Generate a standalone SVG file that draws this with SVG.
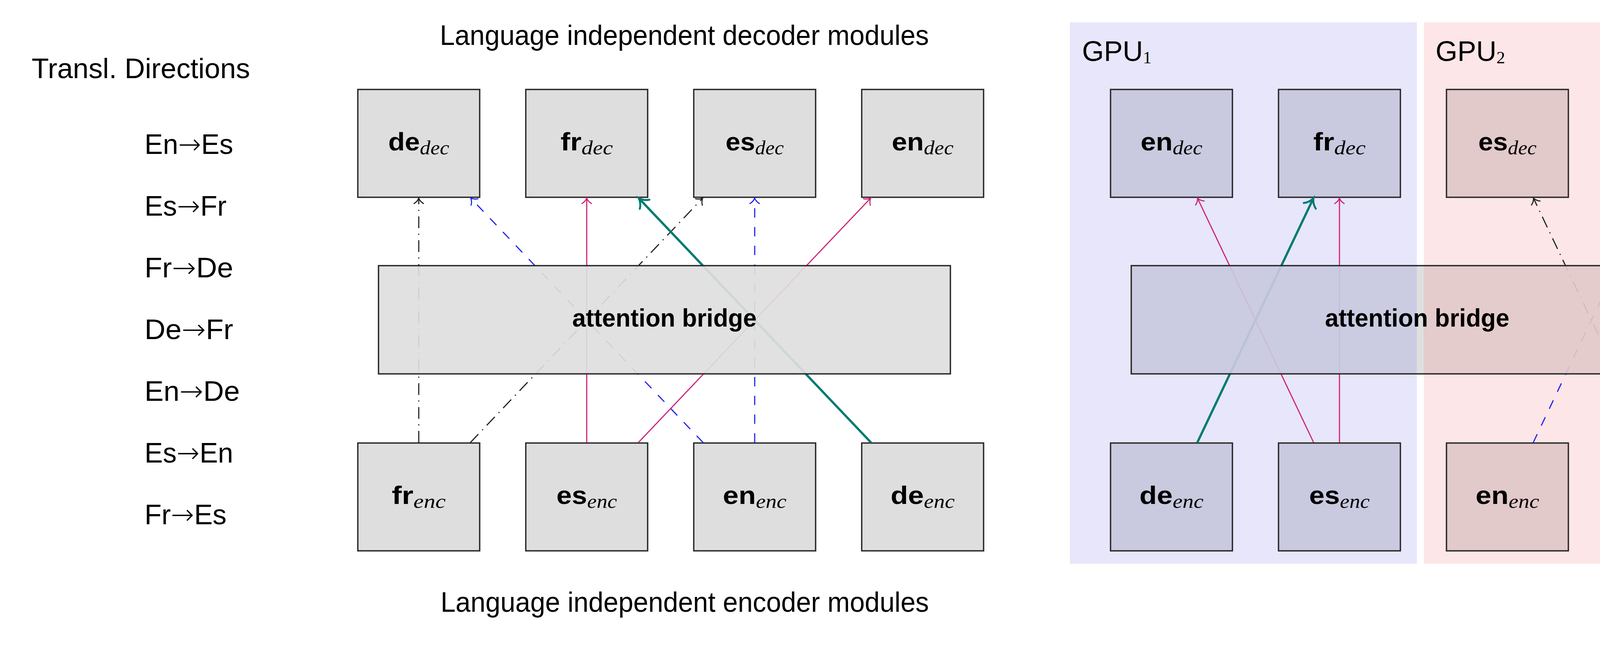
<svg xmlns="http://www.w3.org/2000/svg" width="4602" height="1692" viewBox="0 0 4602 1692">
<style>
.box{stroke:#262626;stroke-width:3.4}
.gray{fill:#dedede}
.g1{fill:#c9c9df}
.g2{fill:#e2c9ca}
.lbl{font-family:"Liberation Sans","DejaVu Sans",sans-serif;font-weight:bold;font-size:64px;fill:#000;text-anchor:middle}
.sub{font-family:"Liberation Serif","DejaVu Serif",serif;font-style:italic;font-weight:normal;font-size:50px}
.txt{font-family:"Liberation Sans","DejaVu Sans",sans-serif;font-size:72px;fill:#000}
.arr{font-family:"DejaVu Sans",sans-serif;font-weight:200}
.num{font-family:"Liberation Serif","DejaVu Serif",serif;font-size:44px}
.c{fill:none;stroke-width:2.9}
.mag{stroke:#cc2277}
.teal{stroke:#007a70;stroke-width:5.8}
.blue{stroke:#2020f0;stroke-dasharray:24 24}
.blk{stroke:#222;stroke-dasharray:30 14 3 14}
.br{fill-opacity:0.92}
</style>
<defs>
<marker id="a-mag" markerUnits="userSpaceOnUse" orient="auto" overflow="visible" markerWidth="1" markerHeight="1"><path d="M-14,-12 C-9,-4 -3,-1 0,0 C-3,1 -9,4 -14,12" fill="none" stroke="#cc2277" stroke-width="2.8" stroke-linecap="round"/></marker>
<marker id="a-blue" markerUnits="userSpaceOnUse" orient="auto" overflow="visible" markerWidth="1" markerHeight="1"><path d="M-14,-12 C-9,-4 -3,-1 0,0 C-3,1 -9,4 -14,12" fill="none" stroke="#2020f0" stroke-width="2.8" stroke-linecap="round"/></marker>
<marker id="a-blk" markerUnits="userSpaceOnUse" orient="auto" overflow="visible" markerWidth="1" markerHeight="1"><path d="M-14,-12 C-9,-4 -3,-1 0,0 C-3,1 -9,4 -14,12" fill="none" stroke="#222" stroke-width="2.8" stroke-linecap="round"/></marker>
<marker id="a-teal" markerUnits="userSpaceOnUse" orient="auto" overflow="visible" markerWidth="1" markerHeight="1"><path d="M-22,-17 C-15,-6 -5,-1.5 0,0 C-5,1.5 -15,6 -22,17" fill="none" stroke="#007a70" stroke-width="5" stroke-linecap="round"/></marker>
</defs>

<g id="gpu-backgrounds">
<rect id="gpu1-bg" x="2739" y="57" width="888" height="1386" fill="#e7e6fb"/>
<rect id="gpu2-bg" x="3645" y="57" width="887" height="1386" fill="#fde6e7"/>
<text class="txt" x="2770" y="156" font-size="68">GPU<tspan class="num" dy="6">1</tspan></text>
<text class="txt" x="3675" y="156" font-size="68">GPU<tspan class="num" dy="6">2</tspan></text>
</g>

<g id="labels">
<text class="txt" x="81" y="200" textLength="559" lengthAdjust="spacingAndGlyphs">Transl. Directions</text>
<text class="txt" x="370" y="394" textLength="227" lengthAdjust="spacingAndGlyphs">En<tspan class="arr">→</tspan>Es</text>
<text class="txt" x="370" y="552" textLength="210" lengthAdjust="spacingAndGlyphs">Es<tspan class="arr">→</tspan>Fr</text>
<text class="txt" x="370" y="710" textLength="227" lengthAdjust="spacingAndGlyphs">Fr<tspan class="arr">→</tspan>De</text>
<text class="txt" x="370" y="868" textLength="227" lengthAdjust="spacingAndGlyphs">De<tspan class="arr">→</tspan>Fr</text>
<text class="txt" x="370" y="1026" textLength="244" lengthAdjust="spacingAndGlyphs">En<tspan class="arr">→</tspan>De</text>
<text class="txt" x="370" y="1184" textLength="227" lengthAdjust="spacingAndGlyphs">Es<tspan class="arr">→</tspan>En</text>
<text class="txt" x="370" y="1342" textLength="210" lengthAdjust="spacingAndGlyphs">Fr<tspan class="arr">→</tspan>Es</text>
<text class="txt" x="1126" y="115" textLength="1252" lengthAdjust="spacingAndGlyphs">Language independent decoder modules</text>
<text class="txt" x="1128" y="1566" textLength="1250" lengthAdjust="spacingAndGlyphs">Language independent encoder modules</text>
</g>

<g id="left-decoders">
<g id="L-de-dec"><rect class="box gray" x="916" y="229" width="312" height="276"/><text class="lbl" x="1072" y="385" textLength="156" lengthAdjust="spacingAndGlyphs">de<tspan class="sub" dy="10">dec</tspan></text></g>
<g id="L-fr-dec"><rect class="box gray" x="1346" y="229" width="312" height="276"/><text class="lbl" x="1502" y="385" textLength="134" lengthAdjust="spacingAndGlyphs">fr<tspan class="sub" dy="10">dec</tspan></text></g>
<g id="L-es-dec"><rect class="box gray" x="1776" y="229" width="312" height="276"/><text class="lbl" x="1932" y="385" textLength="149" lengthAdjust="spacingAndGlyphs">es<tspan class="sub" dy="10">dec</tspan></text></g>
<g id="L-en-dec"><rect class="box gray" x="2206" y="229" width="312" height="276"/><text class="lbl" x="2362" y="385" textLength="158" lengthAdjust="spacingAndGlyphs">en<tspan class="sub" dy="10">dec</tspan></text></g>
</g>
<g id="left-encoders">
<g id="L-fr-enc"><rect class="box gray" x="916" y="1134" width="312" height="276"/><text class="lbl" x="1072" y="1290" textLength="138" lengthAdjust="spacingAndGlyphs">fr<tspan class="sub" dy="10">enc</tspan></text></g>
<g id="L-es-enc"><rect class="box gray" x="1346" y="1134" width="312" height="276"/><text class="lbl" x="1502" y="1290" textLength="155" lengthAdjust="spacingAndGlyphs">es<tspan class="sub" dy="10">enc</tspan></text></g>
<g id="L-en-enc"><rect class="box gray" x="1776" y="1134" width="312" height="276"/><text class="lbl" x="1932" y="1290" textLength="163" lengthAdjust="spacingAndGlyphs">en<tspan class="sub" dy="10">enc</tspan></text></g>
<g id="L-de-enc"><rect class="box gray" x="2206" y="1134" width="312" height="276"/><text class="lbl" x="2362" y="1290" textLength="164" lengthAdjust="spacingAndGlyphs">de<tspan class="sub" dy="10">enc</tspan></text></g>
</g>

<g id="right-decoders">
<g id="R-en-dec"><rect class="box g1" x="2843" y="229" width="312" height="276"/><text class="lbl" x="2999" y="385" textLength="158" lengthAdjust="spacingAndGlyphs">en<tspan class="sub" dy="10">dec</tspan></text></g>
<g id="R-fr-dec"><rect class="box g1" x="3273" y="229" width="312" height="276"/><text class="lbl" x="3429" y="385" textLength="134" lengthAdjust="spacingAndGlyphs">fr<tspan class="sub" dy="10">dec</tspan></text></g>
<g id="R-es-dec"><rect class="box g2" x="3703" y="229" width="312" height="276"/><text class="lbl" x="3859" y="385" textLength="149" lengthAdjust="spacingAndGlyphs">es<tspan class="sub" dy="10">dec</tspan></text></g>
<g id="R-de-dec"><rect class="box g2" x="4133" y="229" width="312" height="276"/><text class="lbl" x="4289" y="385" textLength="156" lengthAdjust="spacingAndGlyphs">de<tspan class="sub" dy="10">dec</tspan></text></g>
</g>
<g id="right-encoders">
<g id="R-de-enc"><rect class="box g1" x="2843" y="1134" width="312" height="276"/><text class="lbl" x="2999" y="1290" textLength="164" lengthAdjust="spacingAndGlyphs">de<tspan class="sub" dy="10">enc</tspan></text></g>
<g id="R-es-enc"><rect class="box g1" x="3273" y="1134" width="312" height="276"/><text class="lbl" x="3429" y="1290" textLength="155" lengthAdjust="spacingAndGlyphs">es<tspan class="sub" dy="10">enc</tspan></text></g>
<g id="R-en-enc"><rect class="box g2" x="3703" y="1134" width="312" height="276"/><text class="lbl" x="3859" y="1290" textLength="163" lengthAdjust="spacingAndGlyphs">en<tspan class="sub" dy="10">enc</tspan></text></g>
<g id="R-fr-enc"><rect class="box g2" x="4133" y="1134" width="312" height="276"/><text class="lbl" x="4289" y="1290" textLength="138" lengthAdjust="spacingAndGlyphs">fr<tspan class="sub" dy="10">enc</tspan></text></g>
</g>

<g id="connectors">
<path class="c blk" d="M1072,1133 L1072,507" marker-end="url(#a-blk)"/>
<path class="c blk" d="M1204,1133 L1799,507" marker-end="url(#a-blk)"/>
<path class="c blue" d="M1800,1133 L1205,507" marker-end="url(#a-blue)"/>
<path class="c blue" d="M1932,1133 L1932,507" marker-end="url(#a-blue)"/>
<path class="c mag" d="M1502,1133 L1502,507" marker-end="url(#a-mag)"/>
<path class="c mag" d="M1634,1133 L2229,507" marker-end="url(#a-mag)"/>
<path class="c teal" d="M2230,1133 L1635,507" marker-end="url(#a-teal)"/>

<path class="c mag" d="M3363,1133 L3065.5,507" marker-end="url(#a-mag)"/>
<path class="c teal" d="M3065,1133 L3362.5,507" marker-end="url(#a-teal)"/>
<path class="c mag" d="M3429,1133 L3429,507" marker-end="url(#a-mag)"/>
<path class="c blk" d="M4223,1133 L3925.5,507" marker-end="url(#a-blk)"/>
<path class="c blue" d="M3925,1133 L4222.5,507" marker-end="url(#a-blue)"/>
<path class="c blk" d="M4289,1133 L4289,507" marker-end="url(#a-blk)"/>
</g>

<g id="L-bridge">
<rect class="br" x="969" y="680" width="1464" height="277" fill="#dedede"/>
<rect class="box" x="969" y="680" width="1464" height="277" fill="none"/>
<text class="lbl" x="1701" y="836" textLength="472" lengthAdjust="spacingAndGlyphs">attention bridge</text>
</g>
<g id="R-bridge">
<rect class="br" x="2896" y="680" width="731" height="277" fill="#c9c9df"/>
<rect class="br" x="3627" y="680" width="18" height="277" fill="#dcdcdc"/>
<rect class="br" x="3645" y="680" width="715" height="277" fill="#e2c9ca"/>
<rect class="box" x="2896" y="680" width="1464" height="277" fill="none"/>
<text class="lbl" x="3628" y="836" textLength="472" lengthAdjust="spacingAndGlyphs">attention bridge</text>
</g>
</svg>
